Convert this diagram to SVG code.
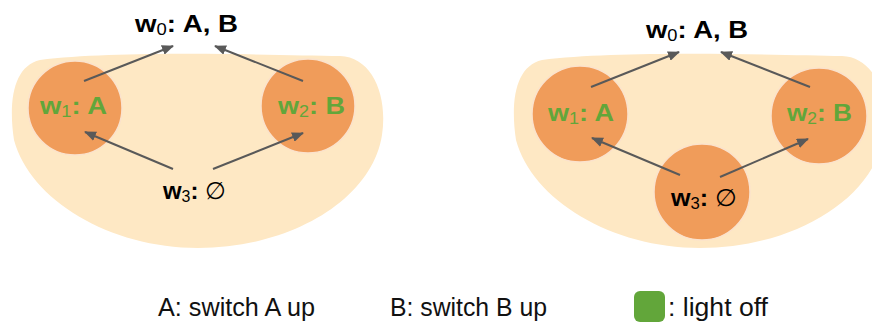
<svg xmlns="http://www.w3.org/2000/svg" width="872" height="324" viewBox="0 0 872 324">
<style>
.blob{fill:#fee8c4}
.node{fill:#f09c5a;stroke:#fbe2cc;stroke-width:1.5}
.lbl{font-family:"Liberation Sans",Arial,sans-serif;font-weight:bold;font-size:24px}
.g{fill:#62a63a}
.k{fill:#000}
.sub{font-weight:normal;font-size:16px}
.reg{font-weight:normal}
.leg{font-family:"Liberation Sans",Arial,sans-serif;font-size:26px;fill:#111}
.edge{stroke:#595959;stroke-width:2;fill:none;marker-end:url(#ah)}
</style>
<defs>
<marker id="ah" markerWidth="12" markerHeight="10" refX="11" refY="5" orient="auto" markerUnits="userSpaceOnUse">
<path d="M0,0 L12,5 L0,10 Z" fill="#595959"/>
</marker>
<path id="bean" d="M 40,60 C 120,50 280,55 340,56 C 372,57 388,95 382,135 C 372,200 290,248 198,248 C 110,248 30,200 14,140 C 8,100 14,66 40,60 Z"/>
</defs>
<rect width="872" height="324" fill="#fff"/>
<use href="#bean" class="blob"/>
<use href="#bean" class="blob" transform="translate(502,0)"/>

<g id="L-w1"><circle class="node" cx="75" cy="108" r="47"/>
<text class="lbl g" x="40" y="114" textLength="67" lengthAdjust="spacingAndGlyphs">w<tspan class="sub" dy="3">1</tspan><tspan dy="-3">: A</tspan></text></g>
<g id="L-w2"><circle class="node" cx="308" cy="106" r="47"/>
<text class="lbl g" x="278" y="114" textLength="67" lengthAdjust="spacingAndGlyphs">w<tspan class="sub" dy="3">2</tspan><tspan dy="-3">: B</tspan></text></g>
<g id="L-w0"><text class="lbl k" x="135" y="32" textLength="103" lengthAdjust="spacingAndGlyphs">w<tspan class="sub" dy="3">0</tspan><tspan dy="-3">: A, B</tspan></text></g>
<g id="L-w3"><text class="lbl k" x="163" y="199" textLength="63" lengthAdjust="spacingAndGlyphs">w<tspan class="sub" dy="3">3</tspan><tspan dy="-3">: </tspan><tspan class="reg">∅</tspan></text></g>

<g id="R-w1"><circle class="node" cx="580" cy="114" r="48"/>
<text class="lbl g" x="548" y="121" textLength="66" lengthAdjust="spacingAndGlyphs">w<tspan class="sub" dy="3">1</tspan><tspan dy="-3">: A</tspan></text></g>
<g id="R-w2"><circle class="node" cx="819" cy="116" r="48"/>
<text class="lbl g" x="787" y="121" textLength="65" lengthAdjust="spacingAndGlyphs">w<tspan class="sub" dy="3">2</tspan><tspan dy="-3">: B</tspan></text></g>
<g id="R-w3"><circle class="node" cx="702" cy="192" r="48"/>
<text class="lbl k" x="671" y="206" textLength="66" lengthAdjust="spacingAndGlyphs">w<tspan class="sub" dy="3">3</tspan><tspan dy="-3">: </tspan><tspan class="reg">∅</tspan></text></g>
<g id="R-w0"><text class="lbl k" x="646" y="38" textLength="102" lengthAdjust="spacingAndGlyphs">w<tspan class="sub" dy="3">0</tspan><tspan dy="-3">: A, B</tspan></text></g>

<g id="connectors">
<line class="edge" x1="84" y1="81" x2="173" y2="46"/>
<line class="edge" x1="303" y1="81" x2="215" y2="46"/>
<line class="edge" x1="173" y1="169" x2="85" y2="132"/>
<line class="edge" x1="213" y1="169" x2="303" y2="133"/>
<line class="edge" x1="591" y1="87" x2="679" y2="52"/>
<line class="edge" x1="810" y1="87" x2="721" y2="52"/>
<line class="edge" x1="680" y1="175" x2="592" y2="138"/>
<line class="edge" x1="720" y1="177" x2="808" y2="139"/>
</g>

<g id="legend">
<text class="leg" x="158" y="316" textLength="157" lengthAdjust="spacingAndGlyphs">A: switch A up</text>
<text class="leg" x="390" y="316" textLength="157" lengthAdjust="spacingAndGlyphs">B: switch B up</text>
<rect x="634" y="291" width="31" height="31" rx="6" fill="#62a63a"/>
<text class="leg" x="668" y="316" textLength="100" lengthAdjust="spacingAndGlyphs">: light off</text>
</g>
</svg>
